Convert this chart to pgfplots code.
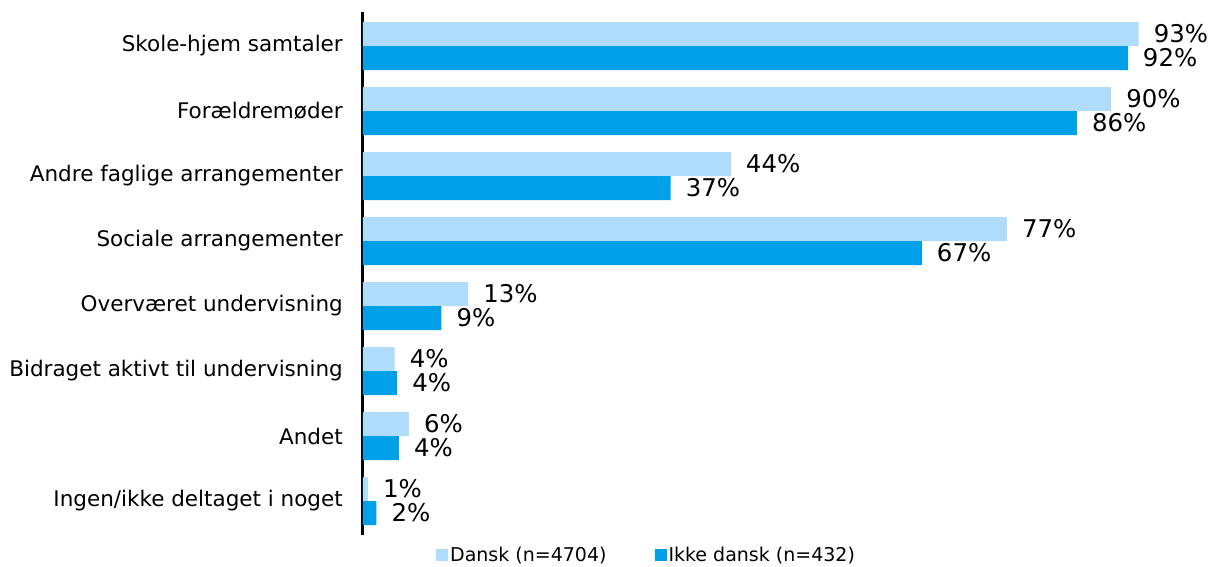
\documentclass[border=0pt]{standalone}
\usepackage{fontspec}
\setmainfont{DejaVu Sans}
\usepackage{pgfplots}
\usepackage{pgfplotstable}
\pgfplotsset{compat=1.18}
\definecolor{lightb}{RGB}{174,220,250}
\definecolor{darkb}{RGB}{0,160,233}

\pgfplotstableread{
idx dansk dlab ikke ilab
0 93.0 93 91.7 92
1 89.7 90 85.6 86
2 44.1 44 36.9 37
3 77.2 77 67.0 67
4 12.6 13 9.4 9
5 3.8 4 4.1 4
6 5.5 6 4.3 4
7 0.6 1 1.6 2
}\data

\begin{document}
\begin{tikzpicture}
\begin{axis}[
  at={(363pt,31pt)}, anchor=south west,
  scale only axis, width=834pt, height=523pt,
  xbar, bar width=24pt,
  xmin=0, xmax=100,
  ymin=-0.523, ymax=7.523, y dir=reverse,
  clip=false,
  axis x line=none,
  axis y line*=left,
  y axis line style={line width=3pt, -},
  ytick={0,...,7},
  yticklabels={Skole-hjem samtaler, Forældremøder, Andre faglige arrangementer, Sociale arrangementer, Overværet undervisning, Bidraget aktivt til undervisning, Andet, Ingen/ikke deltaget i noget},
  major tick length=0pt,
  yticklabel style={font=\fontsize{21.5}{24}\selectfont, anchor=east, inner sep=0pt, xshift=-20pt},
  point meta=explicit symbolic,
  nodes near coords={\pgfplotspointmeta\%},
  nodes near coords style={font=\fontsize{24.4}{27}\selectfont, anchor=west, inner sep=0pt, xshift=15pt, text=black},
  legend columns=2,
  legend cell align=left,
  legend image code/.code={\path[#1, draw=none] (0pt,-6pt) rectangle (12pt,6pt);},
  legend style={draw=none, at={(0.34,-0.038)}, anchor=center,
    font=\fontsize{19}{21}\selectfont, inner sep=0pt,
    nodes={inner sep=2pt},
    /tikz/every even column/.append style={column sep=46pt}},
]
\addplot[fill=lightb, draw=none, bar shift=12pt] table[x=dansk, y=idx, meta=dlab] {\data};
\addplot[fill=darkb, draw=none, bar shift=-12pt] table[x=ikke, y=idx, meta=ilab] {\data};
\legend{Dansk (n=4704), Ikke dansk (n=432)}
\end{axis}
\pgfresetboundingbox
\useasboundingbox (0,0) rectangle (1213pt,566pt);
\end{tikzpicture}
\end{document}
